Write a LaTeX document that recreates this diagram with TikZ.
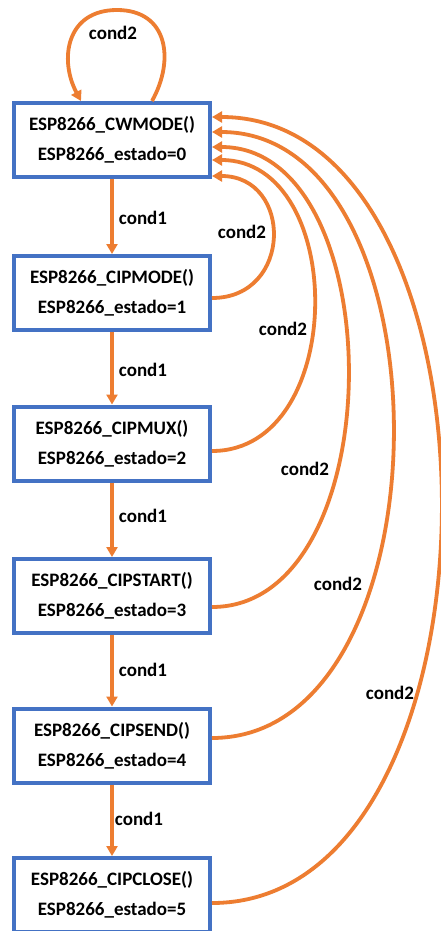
\documentclass[tikz,border=0pt]{standalone}
\usepackage{fontspec}
\setmainfont{Carlito}
\usetikzlibrary{arrows.meta,calc}
\definecolor{boxblue}{HTML}{4472C4}
\definecolor{arrorange}{HTML}{ED7D31}
\begin{document}
\begin{tikzpicture}[x=1pt,y=-1pt,
  state/.style={draw=boxblue, line width=4pt, minimum width=196pt, minimum height=74pt,
    align=center, font=\bfseries\fontsize{19}{30}\selectfont, inner sep=0pt, fill=white},
  lbl/.style={font=\bfseries\fontsize{19}{23}\selectfont, inner sep=0pt},
  arr/.style={draw=arrorange, line width=3.8pt, -{Triangle[length=10pt,width=11pt]}}]
\useasboundingbox[fill=white] (0,0) rectangle (441,931);

\node[state] (b0) at (112,140) {ESP8266\_CWMODE()\\ESP8266\_estado=0};
\node[state] (b1) at (112,293) {ESP8266\_CIPMODE()\\ESP8266\_estado=1};
\node[state] (b2) at (112,443.5) {ESP8266\_CIPMUX()\\ESP8266\_estado=2};
\node[state] (b3) at (112,596) {ESP8266\_CIPSTART()\\ESP8266\_estado=3};
\node[state] (b4) at (112,745.5) {ESP8266\_CIPSEND()\\ESP8266\_estado=4};
\node[state] (b5) at (112,895) {ESP8266\_CIPCLOSE()\\ESP8266\_estado=5};

% cond1 transitions
\draw[arr] (b0) -- (b1);
\draw[arr] (b1) -- (b2);
\draw[arr] (b2) -- (b3);
\draw[arr] (b3) -- (b4);
\draw[arr] (b4) -- (b5);
\node[lbl] (l1) at (143,218) {cond1};
\node[lbl] (l2) at (143,370) {cond1};
\node[lbl] (l3) at (143,516) {cond1};
\node[lbl] (l4) at (143,670) {cond1};
\node[lbl] (l5) at (139,819) {cond1};

% self loop
\coordinate (ls) at ($(b0.north)+(40,0)$);
\coordinate (lt) at (117,10);
\coordinate (le) at ($(b0.north)+(-31,0)$);
\draw[arr] (ls) .. controls (175,60) and (168,10) .. (lt) .. controls (66,10) and (59,60) .. (le);
\node[lbl] (l0) at (113,33) {cond2};

% cond2 returns
\draw[arr] ($(b1.east)+(0,5)$) .. controls +(81,0) and +(81,0) .. ($(b0.east)+(0,36)$);
\draw[arr] ($(b2.east)+(0,7.5)$) .. controls +(136,0) and +(136,0) .. ($(b0.east)+(0,20)$);
\draw[arr] ($(b3.east)+(0,11)$) .. controls +(181,0) and +(181,0) .. ($(b0.east)+(0,7)$);
\draw[arr] ($(b4.east)+(0,-7.5)$) .. controls +(241,0) and +(241,0) .. ($(b0.east)+(0,-8)$);
\draw[arr] ($(b5.east)+(0,8)$) .. controls +(305,0) and +(305,0) .. ($(b0.east)+(0,-23)$);
\node[lbl] (r1) at (242,232) {cond2};
\node[lbl] (r2) at (283,329) {cond2};
\node[lbl] (r3) at (305,469) {cond2};
\node[lbl] (r4) at (338,584) {cond2};
\node[lbl] (r5) at (390,693) {cond2};
\end{tikzpicture}
\end{document}
